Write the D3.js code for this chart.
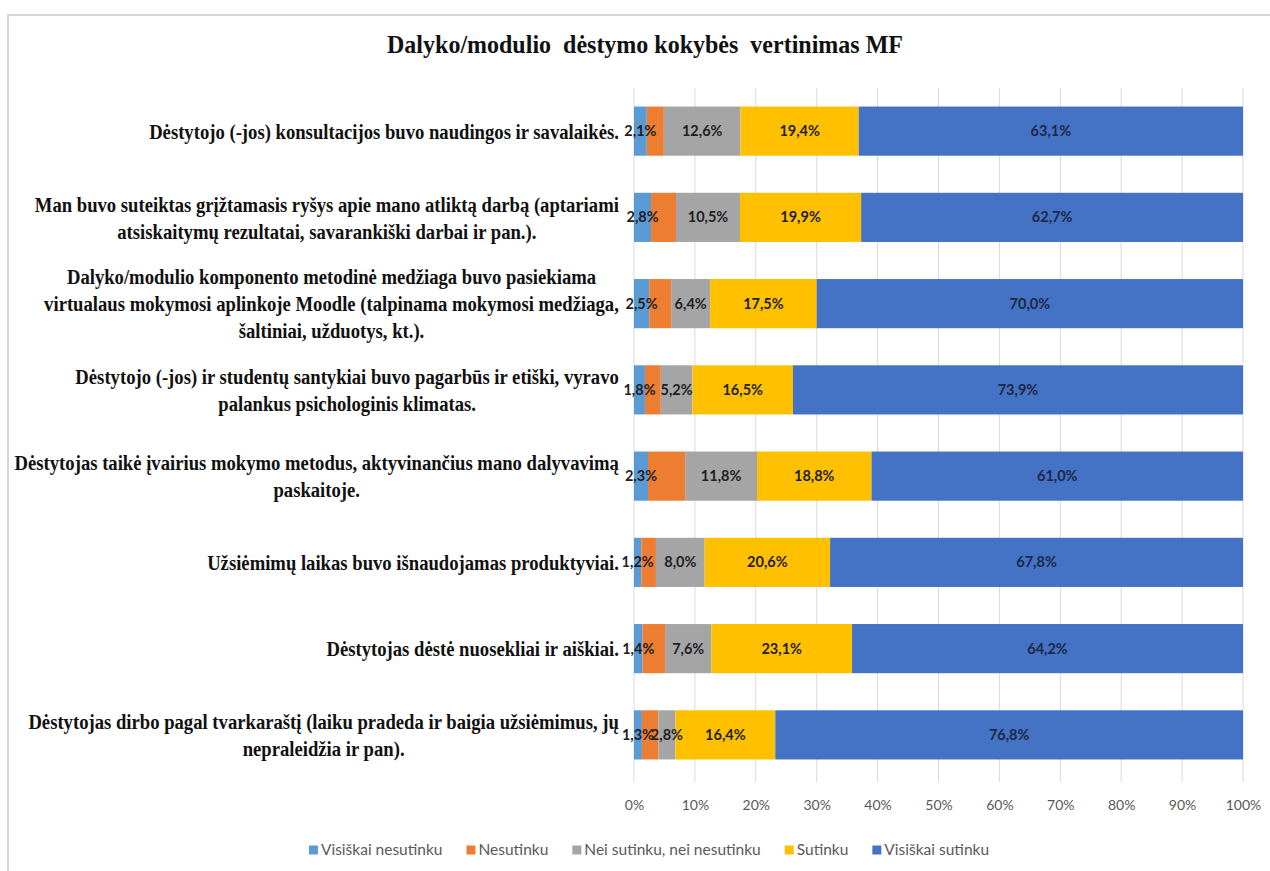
<!DOCTYPE html>
<html>
<head>
<meta charset="utf-8">
<script src="https://cdn.jsdelivr.net/npm/d3@7"></script>
<style>
  html, body { margin: 0; padding: 0; background: #fff; }
  svg { display: block; }
</style>
</head>
<body>
<svg id="chart" width="1270" height="871"></svg>
<script>
// values (per cent); orange labels are hidden in the original
const questions = [
  ["Dėstytojo (-jos) konsultacijos buvo naudingos ir savalaikės."],
  ["Man buvo suteiktas grįžtamasis ryšys apie mano atliktą darbą (aptariami",
   "atsiskaitymų rezultatai, savarankiški darbai ir pan.)."],
  ["Dalyko/modulio komponento metodinė medžiaga buvo pasiekiama",
   "virtualaus mokymosi aplinkoje Moodle (talpinama mokymosi medžiaga,",
   "šaltiniai, užduotys, kt.)."],
  ["Dėstytojo (-jos) ir studentų santykiai buvo pagarbūs ir etiški, vyravo",
   "palankus psichologinis klimatas."],
  ["Dėstytojas taikė įvairius mokymo metodus, aktyvinančius mano dalyvavimą",
   "paskaitoje."],
  ["Užsiėmimų laikas buvo išnaudojamas produktyviai."],
  ["Dėstytojas dėstė nuosekliai ir aiškiai."],
  ["Dėstytojas dirbo pagal tvarkaraštį (laiku pradeda ir baigia užsiėmimus, jų",
   "nepraleidžia ir pan)."]
];

const seriesNames = ["Visiškai nesutinku", "Nesutinku", "Nei sutinku, nei nesutinku", "Sutinku", "Visiškai sutinku"];
const visiskaiNesutinku = [2.1, 2.8, 2.5, 1.8, 2.3, 1.2, 1.4, 1.3];
const nesutinku         = [2.8, 4.1, 3.6, 2.6, 6.1, 2.4, 3.7, 2.7];
const neiNei            = [12.6, 10.5, 6.4, 5.2, 11.8, 8.0, 7.6, 2.8];
const sutinku           = [19.4, 19.9, 17.5, 16.5, 18.8, 20.6, 23.1, 16.4];
const visiskaiSutinku   = [63.1, 62.7, 70.0, 73.9, 61.0, 67.8, 64.2, 76.8];
const showLabels = [true, false, true, true, true];
const seriesColors = ["#5B9BD5", "#ED7D31", "#A5A5A5", "#FFC000", "#4472C4"];
const tickValues = [0, 10, 20, 30, 40, 50, 60, 70, 80, 90, 100];

const columns = [visiskaiNesutinku, nesutinku, neiNei, sutinku, visiskaiSutinku];
const rows = questions.map((q, i) => {
  const r = { idx: i };
  seriesNames.forEach((s, k) => { r[s] = columns[k][i]; });
  return r;
});

const svg = d3.select("#chart");
const LEFT = 634, RIGHT = 1243, TOP = 88, BOTTOM = 778;
const SERIF = "'Liberation Serif', 'Times New Roman', serif";
const SANS = "Lato, 'Open Sans', sans-serif";

const lt = d3.formatLocale({ decimal: ",", thousands: " ", grouping: [3], currency: ["", ""] });
const pct1 = v => lt.format(".1f")(v) + "%";

// frame
svg.append("rect")
  .attr("x", 8).attr("y", 15).attr("width", 1300).attr("height", 900)
  .attr("fill", "#fff").attr("stroke", "#c9c9c9").attr("stroke-width", 1.5);

const x = d3.scaleLinear().domain([0, 100]).range([LEFT, RIGHT]);
const y = d3.scaleBand().domain(rows.map(d => d.idx)).range([TOP, BOTTOM])
  .paddingInner(0.43).paddingOuter(0.215);

// gridlines
svg.append("g").selectAll("line")
  .data(tickValues)
  .join("line")
  .attr("x1", d => x(d)).attr("x2", d => x(d))
  .attr("y1", TOP).attr("y2", BOTTOM + 4)
  .attr("stroke", "#d9d9d9").attr("stroke-width", 1);

// bars
const stack = d3.stack().keys(seriesNames)(rows);
const layers = svg.append("g").selectAll("g")
  .data(stack)
  .join("g")
  .attr("fill", (d, i) => seriesColors[i]);

layers.selectAll("rect")
  .data(d => d)
  .join("rect")
  .attr("x", d => x(d[0]))
  .attr("width", d => x(d[1]) - x(d[0]))
  .attr("y", d => y(d.data.idx))
  .attr("height", y.bandwidth());

// data labels
const labelG = svg.append("g")
  .attr("font-family", SANS).attr("font-weight", 700).attr("font-size", 14.5)
  .attr("text-anchor", "middle");
stack.forEach((layer, k) => {
  if (!showLabels[k]) return;
  labelG.append("g").selectAll("text")
    .data(layer)
    .join("text")
    .attr("x", d => x((d[0] + d[1]) / 2))
    .attr("y", d => y(d.data.idx) + y.bandwidth() / 2)
    .attr("dy", "0.35em")
    .attr("fill", k === 4 ? "#1b2947" : "#1f1f1f")
    .text(d => pct1(d[1] - d[0]));
});

// x axis
const xAxis = svg.append("g")
  .attr("transform", `translate(0,${BOTTOM})`)
  .call(d3.axisBottom(x).tickValues(tickValues).tickSize(0).tickPadding(22).tickFormat(d => d + "%"));
xAxis.select(".domain").remove();
xAxis.selectAll("text")
  .attr("font-family", SANS).attr("font-size", 14).attr("fill", "#595959");

// category labels, bold serif, condensed like the original
const catG = svg.append("g")
  .attr("font-family", SERIF).attr("font-weight", 700).attr("font-size", 22).attr("fill", "#111");
const LABEL_RIGHT = 619, LINE_H = 27;
const groups = catG.selectAll("g")
  .data(rows)
  .join("g");
groups.each(function (d) {
  const g = d3.select(this);
  const lines = questions[d.idx];
  const texts = lines.map(l => g.append("text").attr("text-anchor", "middle").text(l));
  d.maxW = d3.max(texts, t => t.node().getComputedTextLength());
  texts.forEach((t, j) => t.attr("y", (j - (lines.length - 1) / 2) * LINE_H).attr("dy", "0.35em"));
});
const squeeze = 470 / rows[0].maxW;
groups.attr("transform", d =>
  `translate(${LABEL_RIGHT},${y(d.idx) + y.bandwidth() / 2}) scale(${squeeze},1)`);
groups.selectAll("text").attr("x", function () {
  return -d3.select(this.parentNode).datum().maxW / 2;
});

// title
const title = svg.append("text")
  .attr("font-family", SERIF).attr("font-weight", 700).attr("font-size", 25)
  .attr("fill", "#111").attr("text-anchor", "middle")
  .text("Dalyko/modulio  dėstymo kokybės  vertinimas MF")
  .attr("xml:space", "preserve").style("white-space", "pre");
const tw = title.node().getComputedTextLength();
title.attr("transform", `translate(645,44) scale(${516 / tw},1)`).attr("dy", "0.35em");

// legend
const legend = svg.append("g")
  .attr("font-family", SANS).attr("font-size", 15.5).attr("fill", "#595959");
let lx = 0;
seriesNames.forEach((name, i) => {
  const item = legend.append("g");
  item.append("rect").attr("width", 9).attr("height", 9).attr("y", -4.5).attr("fill", seriesColors[i]);
  const t = item.append("text").attr("x", 12).attr("dy", "0.35em").text(name);
  const w = 12 + t.node().getComputedTextLength();
  item.attr("transform", `translate(${lx},0)`);
  lx += w + 24;
});
const legendW = lx - 24;
legend.attr("transform", `translate(${649 - legendW / 2},850)`);
</script>
</body>
</html>
